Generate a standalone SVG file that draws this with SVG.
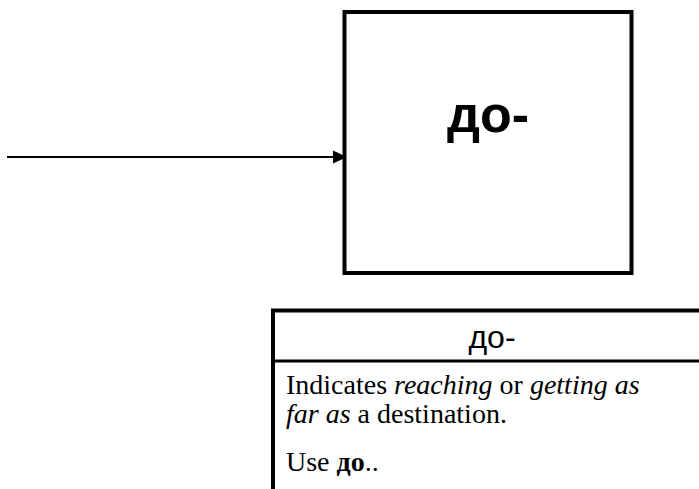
<svg xmlns="http://www.w3.org/2000/svg" width="699" height="489" viewBox="0 0 699 489">
<defs>
<marker id="ah" viewBox="0 0 14 14" refX="14" refY="7" markerWidth="14" markerHeight="14" markerUnits="userSpaceOnUse" orient="auto">
<path d="M0,0.5 L14,7 L0,13.5 Z" fill="#000"/>
</marker>
</defs>
<g id="connectors">
<line x1="7" y1="157" x2="347" y2="157" stroke="#000" stroke-width="2" marker-end="url(#ah)"/>
</g>
<g id="node-do">
<rect x="344.5" y="12" width="287" height="261" fill="#fff" stroke="#000" stroke-width="4"/>
<text x="488" y="132" text-anchor="middle" font-family="'Liberation Sans', Arial, sans-serif" font-weight="bold" font-size="52">до-</text>
</g>
<g id="info-do">
<path d="M273,489 V310.5 H705" fill="none" stroke="#000" stroke-width="4"/>
<line x1="273" y1="361" x2="705" y2="361" stroke="#000" stroke-width="3"/>
<text x="492" y="348" text-anchor="middle" font-family="'Liberation Sans', Arial, sans-serif" font-size="32">до-</text>
<g font-family="'Liberation Serif', 'Times New Roman', serif" font-size="28">
<text x="286" y="394">Indicates <tspan font-style="italic">reaching</tspan> or <tspan font-style="italic">getting as</tspan></text>
<text x="286" y="423"><tspan font-style="italic">far as</tspan> a destination.</text>
<text x="286" y="471">Use <tspan font-weight="bold">до</tspan>..</text>
</g>
</g>
</svg>
